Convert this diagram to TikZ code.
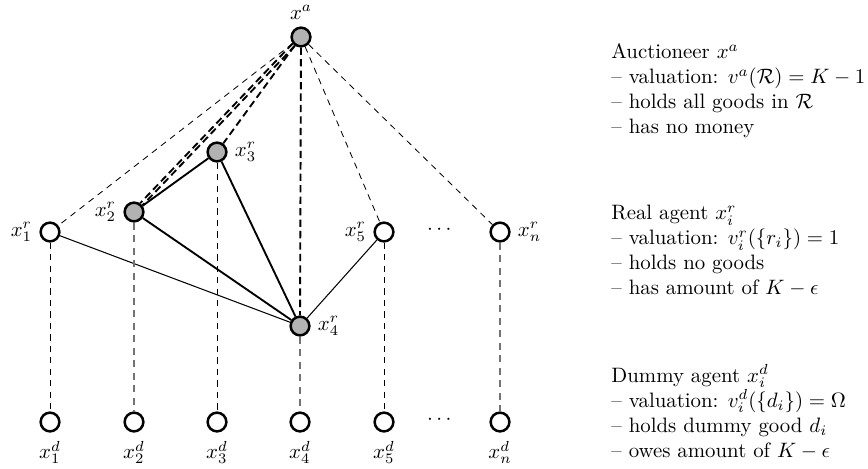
\documentclass[tikz,border=0pt]{standalone}
\usepackage{amsmath,amssymb}
\begin{document}
\begin{tikzpicture}[x=0.48pt,y=-0.48pt,
  agent/.style={circle,draw,line width=1.2pt,minimum size=9pt,inner sep=0pt,fill=white},
  sel/.style={agent,fill=black!30},
  thind/.style={dash pattern=on 3pt off 2.5pt,line width=0.4pt},
  thickd/.style={dash pattern=on 3.5pt off 2pt,line width=0.9pt},
  grayd/.style={dash pattern=on 3.5pt off 2.5pt,line width=0.7pt,black!55},
  thinl/.style={line width=0.5pt},
  thickl/.style={line width=0.9pt},
  dlabel/.style={label={[label distance=0.5pt]below:#1}},
  info/.style={anchor=west,align=left,inner sep=0pt}
]
\useasboundingbox (0,0) rectangle (868,468);
% real agents and auctioneer
\node[sel,label=above:$x^a$] (xa) at (301,37) {};
\node[sel,label=right:$x_3^r$] (r3) at (217,152) {};
\node[sel,label=left:$x_2^r$] (r2) at (134,212) {};
\node[agent,label=left:$x_1^r$] (r1) at (50,232) {};
\node[agent,label=left:$x_5^r$] (r5) at (384,232) {};
\node[agent,label=right:$x_n^r$] (rn) at (500,232) {};
\node[sel,label=right:$x_4^r$] (r4) at (300,326) {};
\node (dotr) at (441,230) {$\cdots$};
% dummy agents
\node[agent,dlabel=$x_1^d$] (d1) at (50,422) {};
\node[agent,dlabel=$x_2^d$] (d2) at (134,422) {};
\node[agent,dlabel=$x_3^d$] (d3) at (217,422) {};
\node[agent,dlabel=$x_4^d$] (d4) at (300,422) {};
\node[agent,dlabel=$x_5^d$] (d5) at (384,422) {};
\node[agent,dlabel=$x_n^d$] (dn) at (500,422) {};
\node (dotd) at (441,420) {$\cdots$};
% edges
\draw[thind] (xa) -- (r1);
\draw[thind] (xa) -- (r5);
\draw[thind] (xa) -- (rn);
\draw[thickd] (xa) -- (r3);
\draw[thickd] (xa) -- (r4);
\draw[thickd] (xa.235) -- (r2.38);
\draw[thickd] (xa.218) -- (r2.55);
\draw[thickl] (r2) -- (r3);
\draw[thickl] (r2) -- (r4);
\draw[thickl] (r3) -- (r4);
\draw[thinl] (r1) -- (r4);
\draw[thinl] (r5) -- (r4);
\draw[thind] (r1) -- (d1);
\draw[thind] (r3) -- (d3);
\draw[thind] (r5) -- (d5);
\draw[grayd] (r2) -- (d2);
\draw[grayd] (r4) -- (d4);
\draw[grayd] (rn) -- (dn);
% descriptions
\node[info] (ta) at (611,91) {Auctioneer $x^a$\\ -- valuation: $v^a(\mathcal{R})=K-1$\\ -- holds all goods in $\mathcal{R}$\\ -- has no money};
\node[info] (tr) at (611,251) {Real agent $x_i^r$\\ -- valuation: $v_i^r(\{r_i\})=1$\\ -- holds no goods\\ -- has amount of $K-\epsilon$};
\node[info] (td) at (611,412) {Dummy agent $x_i^d$\\ -- valuation: $v_i^d(\{d_i\})=\Omega$\\ -- holds dummy good $d_i$\\ -- owes amount of $K-\epsilon$};
\end{tikzpicture}
\end{document}
